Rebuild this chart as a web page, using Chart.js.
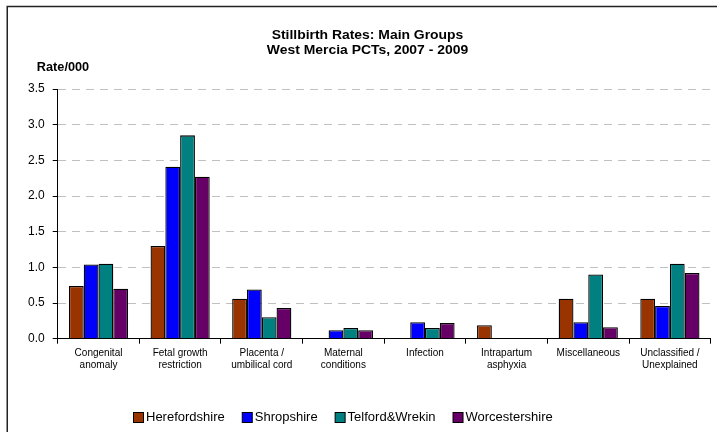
<!DOCTYPE html>
<html>
<head>
<meta charset="utf-8">
<script src="https://cdn.jsdelivr.net/npm/chart.js@4.4.0/dist/chart.umd.min.js"></script>
<style>
  html, body { margin: 0; padding: 0; background: #fff; }
  #wrap { position: relative; width: 717px; height: 432px; }
</style>
</head>
<body>
<div id="wrap"><canvas id="c" width="717" height="432"></canvas></div>
<script>
const categories = [
  ["Congenital", "anomaly"],
  ["Fetal growth", "restriction"],
  ["Placenta /", "umbilical cord"],
  ["Maternal", "conditions"],
  ["Infection"],
  ["Intrapartum", "asphyxia"],
  ["Miscellaneous"],
  ["Unclassified /", "Unexplained"]
];
const seriesNames = ["Herefordshire", "Shropshire", "Telford&Wrekin", "Worcestershire"];
const herefordshire  = [0.74, 1.30, 0.56, 0,    0,    0.19, 0.56, 0.56];
const shropshire     = [1.04, 2.41, 0.69, 0.12, 0.23, 0,    0.23, 0.46];
const telfordWrekin  = [1.05, 2.85, 0.30, 0.15, 0.15, 0,    0.90, 1.05];
const worcestershire = [0.70, 2.27, 0.43, 0.12, 0.22, 0,    0.16, 0.92];
const seriesColors = ["#993300", "#0000FF", "#008080", "#660066"];
const titleLines = ["Stillbirth Rates: Main Groups", "West Mercia PCTs, 2007 - 2009"];
const yAxisLabel = "Rate/000";
const yTicks = { min: 0, max: 3.5, step: 0.5 };

const FONT = "'Liberation Sans', Arial, sans-serif";
const seriesValues = [herefordshire, shropshire, telfordWrekin, worcestershire];

function wideText(ctx, text, x, y, sx) {
  ctx.save();
  ctx.translate(x, y);
  ctx.scale(sx, 1);
  ctx.fillText(text, 0, 0);
  ctx.restore();
}

const decor = {
  id: 'decor',
  afterDraw(chart) {
    const ctx = chart.ctx;
    ctx.save();
    // frame
    ctx.strokeStyle = '#222';
    ctx.lineWidth = 1.5;
    ctx.beginPath();
    ctx.moveTo(7.25, 440);
    ctx.lineTo(7.25, 6.5);
    ctx.lineTo(730, 6.5);
    ctx.stroke();
    // title
    ctx.fillStyle = '#000';
    ctx.font = 'bold 13px ' + FONT;
    ctx.textAlign = 'center';
    ctx.textBaseline = 'middle';
    wideText(ctx, titleLines[0], 367.5, 35, 1.07);
    wideText(ctx, titleLines[1], 367.5, 50.5, 1.07);
    // y axis label
    ctx.font = 'bold 12px ' + FONT;
    wideText(ctx, yAxisLabel, 63, 67.5, 1.06);
    // legend
    ctx.font = '13px ' + FONT;
    ctx.textAlign = 'left';
    let x = 133.5;
    const yc = 417.5;
    chart.data.datasets.forEach((ds) => {
      ctx.fillStyle = ds.backgroundColor;
      ctx.fillRect(x, yc - 5, 10, 10);
      ctx.strokeStyle = '#000';
      ctx.lineWidth = 1;
      ctx.strokeRect(x, yc - 5, 10, 10);
      ctx.fillStyle = '#000';
      const tx = x + 12.5;
      ctx.fillText(ds.label, tx, yc);
      x = tx + ctx.measureText(ds.label).width + 17.5;
    });
    ctx.restore();
  }
};

new Chart(document.getElementById('c'), {
  type: 'bar',
  data: {
    labels: categories,
    datasets: seriesNames.map((name, i) => ({
      label: name,
      data: seriesValues[i],
      backgroundColor: seriesColors[i],
      borderColor: '#000',
      borderWidth: 1.3,
      categoryPercentage: 0.725,
      barPercentage: 1.0
    }))
  },
  options: {
    responsive: false,
    animation: false,
    devicePixelRatio: 1,
    layout: { padding: { top: 89, right: 6.3, bottom: 0, left: 0 } },
    plugins: {
      legend: { display: false },
      title: { display: false },
      tooltip: { enabled: false }
    },
    scales: {
      x: {
        offset: true,
        grid: {
          offset: true,
          drawOnChartArea: false,
          drawTicks: true,
          tickLength: 5,
          tickColor: '#000'
        },
        border: { color: '#000', width: 1 },
        ticks: {
          color: '#000',
          font: { family: FONT, size: 10, lineHeight: 1.22 },
          padding: 3.5,
          maxRotation: 0,
          autoSkip: false
        },
        afterFit(scale) { scale.height = 432 - 338.7; }
      },
      y: {
        min: yTicks.min,
        max: yTicks.max,
        grid: {
          color: '#c0c0c0',
          lineWidth: 1,
          tickLength: 5,
          tickColor: '#000',
          tickBorderDash: []
        },
        border: { color: '#000', width: 1, dash: [8, 6] },
        ticks: {
          stepSize: yTicks.step,
          color: '#000',
          padding: 8,
          font: { family: FONT, size: 12 },
          callback: (v) => Number(v).toFixed(1)
        },
        afterFit(scale) { scale.width = 57.7; }
      }
    }
  },
  plugins: [decor]
});
</script>
</body>
</html>
